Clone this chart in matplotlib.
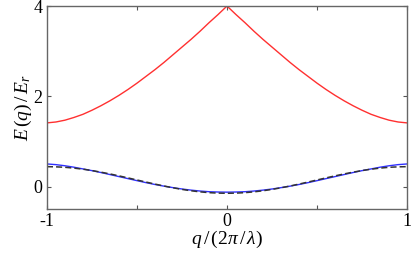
import matplotlib.pyplot as plt
from matplotlib.ticker import FixedLocator, FixedFormatter

# quasi-momentum grid, in units of 2*pi/lambda
q = [-1.0, -0.95, -0.9, -0.85, -0.8, -0.75, -0.7, -0.65, -0.6, -0.55, -0.5,
     -0.45, -0.4, -0.35, -0.3, -0.25, -0.2, -0.15, -0.1, -0.05, 0.0,
     0.05, 0.1, 0.15, 0.2, 0.25, 0.3, 0.35, 0.4, 0.45, 0.5,
     0.55, 0.6, 0.65, 0.7, 0.75, 0.8, 0.85, 0.9, 0.95, 1.0]

# first excited band (red)
band2 = [1.41, 1.43, 1.47, 1.53, 1.60, 1.69, 1.79, 1.90, 2.02, 2.15, 2.29,
         2.44, 2.59, 2.75, 2.92, 3.09, 3.26, 3.44, 3.63, 3.81, 4.00,
         3.81, 3.63, 3.44, 3.26, 3.09, 2.92, 2.75, 2.59, 2.44, 2.29,
         2.15, 2.02, 1.90, 1.79, 1.69, 1.60, 1.53, 1.47, 1.43, 1.41]

# lowest band (blue)
band1 = [0.50, 0.485, 0.46, 0.428, 0.39, 0.352, 0.31, 0.265, 0.22, 0.175, 0.13,
         0.086, 0.045, 0.008, -0.025, -0.055, -0.08, -0.10, -0.115, -0.122, -0.125,
         -0.122, -0.115, -0.10, -0.08, -0.055, -0.025, 0.008, 0.045, 0.086, 0.13,
         0.175, 0.22, 0.265, 0.31, 0.352, 0.39, 0.428, 0.46, 0.485, 0.50]

# tight-binding approximation (dashed)
tight = [0.44, 0.436, 0.426, 0.408, 0.384, 0.354, 0.318, 0.279, 0.236, 0.191, 0.145,
         0.099, 0.054, 0.011, -0.028, -0.064, -0.094, -0.118, -0.136, -0.146, -0.15,
         -0.146, -0.136, -0.118, -0.094, -0.064, -0.028, 0.011, 0.054, 0.099, 0.145,
         0.191, 0.236, 0.279, 0.318, 0.354, 0.384, 0.408, 0.426, 0.436, 0.44]

xticks = [-1, -0.5, 0, 0.5, 1]
xticklabels = ['-1', '', '0', '', '1']
yticks = [0, 2, 4]

plt.rcParams['font.family'] = 'Liberation Serif'
plt.rcParams['mathtext.fontset'] = 'custom'
plt.rcParams['mathtext.rm'] = 'Liberation Serif'
plt.rcParams['mathtext.it'] = 'Liberation Serif:italic'

fig = plt.figure(figsize=(4.15, 2.62), dpi=100)
ax = fig.add_axes([0.113, 0.202, 0.868, 0.775])

ax.plot(q, band2, color='#ff3030', lw=1)
ax.plot(q, band1, color='#3030ff', lw=1)
ax.plot(q, tight, color='#333333', lw=1.1, ls=(0, (4, 2)))

ax.set_xlim(-1, 1)
ax.set_ylim(-0.5, 4)
ax.xaxis.set_major_locator(FixedLocator(xticks))
ax.xaxis.set_major_formatter(FixedFormatter(xticklabels))
ax.set_yticks(yticks)
ax.tick_params(direction='in', top=True, right=True, length=3, width=0.8,
               color='#555555', labelsize=13, pad=3)
for s in ax.spines.values():
    s.set_color('#666666')
    s.set_linewidth(1)

ax.set_xlabel(r'$q\,/\,(2\pi\,/\,\lambda)$', fontsize=14, labelpad=-1)
ax.set_ylabel(r'$E\,(q)\,/\,E_r$', fontsize=14, labelpad=0)

fig.savefig('out.png', dpi=100)
